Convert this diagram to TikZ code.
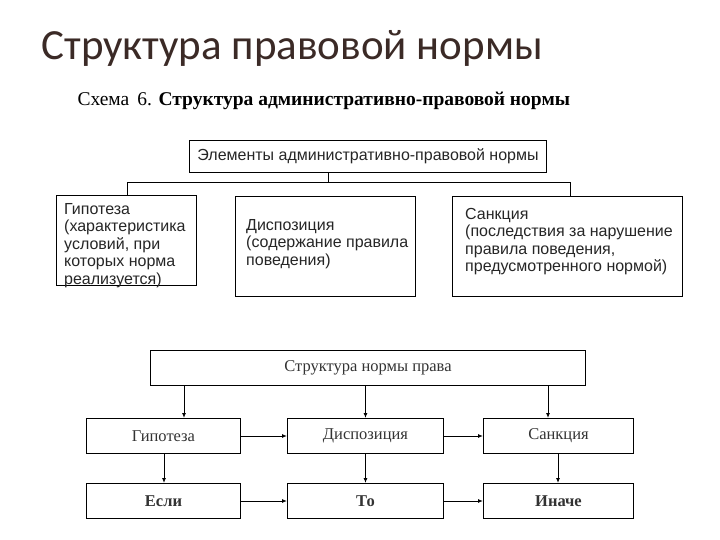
\documentclass[tikz,border=0pt]{standalone}
\usepackage{fontspec}
\setmainfont{Liberation Serif}
\newfontfamily\ttl{Carlito}
\newfontfamily\sns{Liberation Sans}
\usetikzlibrary{arrows.meta}
\definecolor{ttlc}{HTML}{3B2A26}
\begin{document}
\begin{tikzpicture}[x=1pt,y=-1pt,
 sb/.style={draw,line width=1.1pt,inner sep=0pt,anchor=north west},
 tx/.style={anchor=north west,font=\sns\fontsize{16}{17.5}\selectfont,align=left,inner sep=0pt,text=black!85},
 bb/.style={draw,line width=1pt,anchor=north west,inner sep=0pt},
 bt/.style={text=black!80,font=\fontsize{16.5}{18}\selectfont},
 ar/.style={-{Latex[length=5pt,width=4pt]},line width=0.9pt}]
\useasboundingbox (0,0) rectangle (720,540);
\fill[white] (0,0) rectangle (720,540);
\node[anchor=base west,font=\ttl\fontsize{43}{45}\selectfont,text=ttlc] (t) at (38,60) {Структура правовой нормы};
\node[anchor=base west,font=\fontsize{19.5}{21}\selectfont] (c) at (74,106) {Схема\, 6. \textbf{Структура административно-правовой нормы}};
% top diagram
\node[sb,minimum width=357pt,minimum height=32pt] (e) at (189,140) {};
\node[tx,anchor=center] at (e.center) {Элементы административно-правовой нормы};
\node[sb,minimum width=140pt,minimum height=90pt] (g) at (56,195) {};
\node[sb,minimum width=180pt,minimum height=100pt] (d) at (235,196) {};
\node[sb,minimum width=230pt,minimum height=100pt] (s) at (452,196) {};
\node[tx] at (64,203) {Гипотеза\\(характеристика\\условий, при\\которых норма\\реализуется)};
\node[tx] at (246,219) {Диспозиция\\(содержание правила\\поведения)};
\node[tx] at (465,208) {Санкция\\(последствия за нарушение\\правила поведения,\\предусмотренного нормой)};
\coordinate (h) at (328,182);
\draw[line width=0.8pt] (e.south -| h) -- (h);
\draw[line width=0.8pt] (g.north -| 127,0) -- (127,182) -- (570,182) -- (s.north -| 570,0);
% bottom diagram
\node[bb,minimum width=435pt,minimum height=35pt] (n) at (150,350) {};
\node[bt] at (n.center) {Структура нормы права};
\node[bb,minimum width=154pt,minimum height=35pt] (a1) at (86,418) {};
\node[bb,minimum width=156pt,minimum height=35pt] (a2) at (287,418) {};
\node[bb,minimum width=150pt,minimum height=35pt] (a3) at (483,418) {};
\node[bb,minimum width=154pt,minimum height=35pt] (b1) at (86,483) {};
\node[bb,minimum width=156pt,minimum height=35pt] (b2) at (287,483) {};
\node[bb,minimum width=150pt,minimum height=35pt] (b3) at (483,483) {};
\node[bt] at (a1.center) {Гипотеза};
\node[bt] at (a2.center) {Диспозиция};
\node[bt] at (a3.center) {Санкция};
\node[bt,font=\bfseries\fontsize{16.5}{18}\selectfont] at (b1.center) {Если};
\node[bt,font=\bfseries\fontsize{16.5}{18}\selectfont] at (b2.center) {То};
\node[bt,font=\bfseries\fontsize{16.5}{18}\selectfont] at (b3.center) {Иначе};
\draw[ar] (n.south -| 184,0) -- (a1.north -| 184,0);
\draw[ar] (n.south -| a2.north) -- (a2.north);
\draw[ar] (n.south -| 548,0) -- (a3.north -| 548,0);
\draw[ar] (a1.south -| 164,0) -- (b1.north -| 164,0);
\draw[ar] (a2.south) -- (b2.north);
\draw[ar] (a3.south -| 558,0) -- (b3.north -| 558,0);
\draw[ar] (a1) -- (a2);
\draw[ar] (a2) -- (a3);
\draw[ar] (b1) -- (b2);
\draw[ar] (b2) -- (b3);
\end{tikzpicture}
\end{document}
